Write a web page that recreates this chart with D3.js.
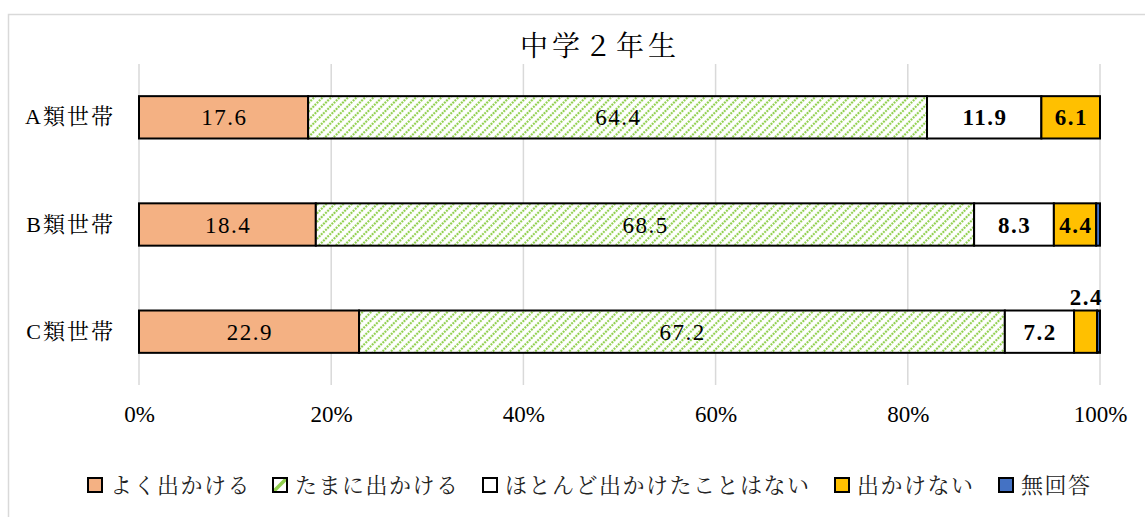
<!DOCTYPE html>
<html><head><meta charset="utf-8">
<script src="https://cdn.jsdelivr.net/npm/d3@7"></script>
<style>body{margin:0;background:#fff}svg{display:block}</style>
</head><body>
<svg id="c" width="1145" height="517"></svg>
<script>
const categories = ["A類世帯", "B類世帯", "C類世帯"];
const seriesNames = ["よく出かける", "たまに出かける", "ほとんど出かけたことはない", "出かけない", "無回答"];
const valOften = [17.6, 18.4, 22.9];
const valSometimes = [64.4, 68.5, 67.2];
const valRarely = [11.9, 8.3, 7.2];
const valNever = [6.1, 4.4, 2.4];
const valNoAnswer = [0.0, 0.4, 0.3];
const tickLabels = ["0%", "20%", "40%", "60%", "80%", "100%"];
const title = "中学２年生";

const series = [valOften, valSometimes, valRarely, valNever, valNoAnswer];
const fills = ["#F4B183", "url(#hatch)", "#FFFFFF", "#FFC000", "#4472C4"];
const legendFills = ["#F4B183", "url(#hatchL)", "#FFFFFF", "#FFC000", "#4472C4"];
const boldLabel = [false, false, true, true, false];

const FONT = "'Liberation Serif','Noto Serif CJK JP','Noto Sans CJK JP',serif";
const svg = d3.select("#c");
const defs = svg.append("defs");
const pat = defs.append("pattern").attr("id", "hatch").attr("patternUnits", "userSpaceOnUse")
  .attr("width", 6).attr("height", 6).attr("patternTransform", "rotate(45)");
pat.append("rect").attr("width", 6).attr("height", 6).attr("fill", "#fff");
pat.append("line").attr("x1", 3).attr("y1", 0).attr("x2", 3).attr("y2", 6)
  .attr("stroke", "#92D050").attr("stroke-width", 2.2).attr("stroke-dasharray", "2,1");
const patL = defs.append("pattern").attr("id", "hatchL").attr("patternUnits", "objectBoundingBox")
  .attr("patternContentUnits", "objectBoundingBox").attr("width", 1).attr("height", 1);
patL.append("rect").attr("width", 1).attr("height", 1).attr("fill", "#fff");
patL.append("line").attr("x1", 0).attr("y1", 1).attr("x2", 1).attr("y2", 0)
  .attr("stroke", "#92D050").attr("stroke-width", 0.25);

// chart border
svg.append("rect").attr("x", 8.5).attr("y", 14.5).attr("width", 1145).attr("height", 520)
  .attr("fill", "none").attr("stroke", "#d9d9d9").attr("stroke-width", 1.5);

const x = d3.scaleLinear().domain([0, 100]).range([139, 1100]);
const y = d3.scaleBand().domain(categories).range([64, 385]).paddingInner(0.605).paddingOuter(0.3);

// gridlines
svg.append("g").selectAll("line").data(d3.range(0, 101, 20)).join("line")
  .attr("x1", d => x(d)).attr("x2", d => x(d)).attr("y1", 64).attr("y2", 385)
  .attr("stroke", "#d9d9d9").attr("stroke-width", 1.5);

// axis
const xAxis = d3.axisBottom(x).tickValues(d3.range(0, 101, 20)).tickFormat((d, i) => tickLabels[i]).tickSize(0).tickPadding(0);
const gx = svg.append("g").attr("transform", "translate(0,406)").call(xAxis);
gx.select(".domain").remove();
gx.selectAll("text").attr("font-family", FONT).attr("font-size", 23).attr("fill", "#000").attr("dy", "0.7em");

// y labels
const yAxis = d3.axisLeft(y).tickSize(0).tickPadding(24);
const gy = svg.append("g").attr("transform", "translate(139,0)").call(yAxis);
gy.select(".domain").remove();
gy.selectAll("text").attr("font-family", FONT).attr("font-size", 22).attr("letter-spacing", 2).attr("fill", "#000");

// stacks
categories.forEach((cat, ci) => {
  let cum = 0;
  series.forEach((s, si) => {
    const v = s[ci];
    const x0 = x(cum), x1 = x(cum + v);
    cum += v;
    if (v <= 0) return;
    svg.append("rect").attr("x", x0).attr("y", y(cat)).attr("width", x1 - x0).attr("height", y.bandwidth())
      .attr("fill", fills[si]).attr("stroke", "#000").attr("stroke-width", 2);
    if (si === 4) return;
    const small = (x1 - x0) < 40;
    svg.append("text")
      .attr("x", (x0 + x1) / 2 + 0.75)
      .attr("y", small ? y(cat) - 6 : y(cat) + y.bandwidth() / 2)
      .attr("dy", small ? 0 : "0.35em")
      .attr("text-anchor", "middle")
      .attr("font-family", FONT).attr("font-size", 23)
      .attr("letter-spacing", 1.5)
      .attr("font-weight", boldLabel[si] ? "bold" : "normal")
      .attr("fill", "#000")
      .text(v.toFixed(1));
  });
});

// title
svg.append("text").attr("x", 600).attr("y", 56).attr("text-anchor", "middle")
  .attr("font-family", FONT).attr("font-size", 28).attr("letter-spacing", 4).attr("fill", "#000").text(title);

// legend
const legendX = [88, 273, 483, 835, 999];
const lg = svg.append("g");
seriesNames.forEach((n, i) => {
  lg.append("rect").attr("x", legendX[i]).attr("y", 478).attr("width", 14).attr("height", 14)
    .attr("fill", legendFills[i]).attr("stroke", "#000").attr("stroke-width", 2);
  lg.append("text").attr("x", legendX[i] + 22).attr("y", 485).attr("dy", "0.36em")
    .attr("font-family", FONT).attr("font-size", 22).attr("letter-spacing", 1.5).attr("fill", "#222").text(n);
});
</script>
</body></html>
